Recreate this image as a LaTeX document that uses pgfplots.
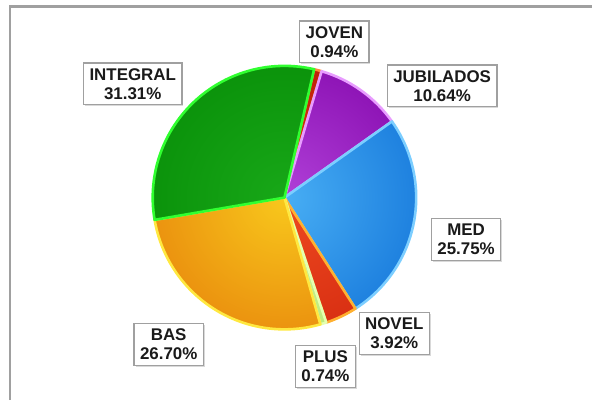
\documentclass[border=0pt]{standalone}
\usepackage{fontspec}
\setmainfont{Liberation Sans}
\usepackage{pgfplots}
\usepackage{pgfplotstable}
\pgfplotsset{compat=1.18}
\usetikzlibrary{shadows}

% slice colours: dark (rim), light (centre), edge
\definecolor{dk0}{HTML}{B81A08}\definecolor{lt0}{HTML}{D83A10}\definecolor{ed0}{HTML}{FF8A3A}
\definecolor{dk1}{HTML}{860AAE}\definecolor{lt1}{HTML}{B040D8}\definecolor{ed1}{HTML}{E89CFF}
\definecolor{dk2}{HTML}{1476DA}\definecolor{lt2}{HTML}{48AEF4}\definecolor{ed2}{HTML}{7CCEFF}
\definecolor{dk3}{HTML}{D42A10}\definecolor{lt3}{HTML}{EE4A20}\definecolor{ed3}{HTML}{FFB030}
\definecolor{dk4}{HTML}{B8E878}\definecolor{lt4}{HTML}{D0F498}\definecolor{ed4}{HTML}{E4FFB0}
\definecolor{dk5}{HTML}{E8860C}\definecolor{lt5}{HTML}{F8C81C}\definecolor{ed5}{HTML}{FFE840}
\definecolor{dk6}{HTML}{088E08}\definecolor{lt6}{HTML}{18A818}\definecolor{ed6}{HTML}{30FF30}
\definecolor{frame}{HTML}{A0A0A0}
\definecolor{labtext}{HTML}{1A1A1A}

\pgfplotstableread{
label pct lx ly
JOVEN 0.94 335 359
JUBILADOS 10.64 443 315
MED 25.75 467 161
NOVEL 3.92 395 67
PLUS 0.74 326 34
BAS 26.70 169 56
INTEGRAL 31.31 133 317
}\piedata

\def\cx{285}\def\cy{203}\def\R{132}
\def\cum{77}
\pgfplotsforeachungrouped \i in {0,...,6}{%
  \pgfplotstablegetelem{\i}{pct}\of\piedata
  \let\p\pgfplotsretval
  \pgfmathsetmacro\b{\cum-3.6*\p}%
  \expandafter\xdef\csname pa\i\endcsname{\cum}%
  \expandafter\xdef\csname pb\i\endcsname{\b}%
  \expandafter\xdef\csname pp\i\endcsname{\p}%
  \pgfplotstablegetelem{\i}{label}\of\piedata
  \expandafter\xdef\csname pl\i\endcsname{\pgfplotsretval}%
  \pgfplotstablegetelem{\i}{lx}\of\piedata
  \expandafter\xdef\csname px\i\endcsname{\pgfplotsretval}%
  \pgfplotstablegetelem{\i}{ly}\of\piedata
  \expandafter\xdef\csname py\i\endcsname{\pgfplotsretval}%
  \xdef\cum{\b}%
}

\begin{document}
\begin{tikzpicture}
\begin{axis}[
  x=1bp, y=1bp, xmin=0, xmax=593, ymin=0, ymax=401,
  hide axis, clip=false, anchor=origin, at={(0,0)},
]
\path (axis cs:0,0) rectangle (axis cs:593,401);
\draw[frame, line width=2.3bp] (axis cs:10,0) -- (axis cs:10,394.5) -- (axis cs:593,394.5);
\pgfplotsinvokeforeach{0,...,6}{
  \begin{scope}
    \clip (axis cs:\cx,\cy) -- ++(\csname pa#1\endcsname:\R bp)
      arc[start angle=\csname pa#1\endcsname, end angle=\csname pb#1\endcsname, radius=\R bp] -- cycle;
    \shade[inner color=lt#1, outer color=dk#1] (axis cs:\cx,\cy) circle[radius=1.25*\R bp];
  \end{scope}
  \draw[ed#1, line width=2.6bp, line join=round] (axis cs:\cx,\cy) -- ++(\csname pa#1\endcsname:\R bp)
      arc[start angle=\csname pa#1\endcsname, end angle=\csname pb#1\endcsname, radius=\R bp] -- cycle;
}
\pgfplotsinvokeforeach{0,...,6}{
  \node[draw=frame, line width=1.2bp, fill=white, text=labtext, align=center,
        inner xsep=6bp, inner ysep=5.5bp,
        drop shadow={shadow xshift=1.5bp, shadow yshift=-1.5bp, opacity=0.3},
        font=\fontsize{17}{19}\selectfont\bfseries]
    at (axis cs:\csname px#1\endcsname,\csname py#1\endcsname)
    {\csname pl#1\endcsname\\\csname pp#1\endcsname\%};
}
\end{axis}
\end{tikzpicture}
\end{document}
